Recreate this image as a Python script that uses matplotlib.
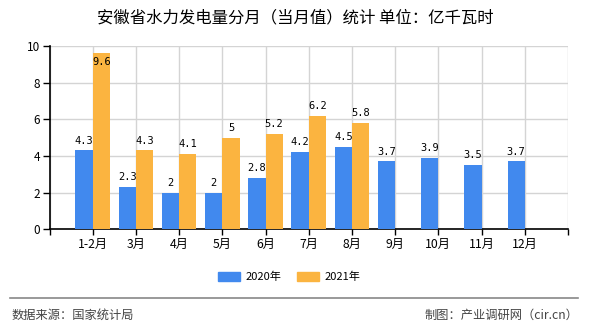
import matplotlib
matplotlib.use('Agg')
import matplotlib.pyplot as plt
import numpy as np
from matplotlib.patches import Patch

plt.rcParams['font.family'] = ['Noto Sans CJK SC', 'DejaVu Sans']

months = ['1-2月', '3月', '4月', '5月', '6月', '7月', '8月', '9月', '10月', '11月', '12月']
v2020 = [4.3, 2.3, 2, 2, 2.8, 4.2, 4.5, 3.7, 3.9, 3.5, 3.7]
v2021 = [9.6, 4.3, 4.1, 5, 5.2, 6.2, 5.8]
series_names = ['2020年', '2021年']
blue = '#4189EE'
orange = '#FBB440'

fig = plt.figure(figsize=(5.9, 3.3), dpi=100)
ax = fig.add_axes([0.0839, 0.3052, 0.8788, 0.5554])

x20 = np.arange(1, len(v2020) + 1)
x21 = np.arange(1, len(v2021) + 1)
w = 0.4
b1 = ax.bar(x20 - w / 2, v2020, w, color=blue, zorder=3)
b2 = ax.bar(x21 + w / 2, v2021, w, color=orange, zorder=3)

# value labels, inside the bar when it reaches the top
for bars, vals in ((b1, v2020), (b2, v2021)):
    for rect, v in zip(bars, vals):
        cx = rect.get_x() + rect.get_width() / 2
        if v > 9:
            ax.annotate(f'{v:g}', (cx, v), xytext=(0, -3), textcoords='offset points',
                        ha='center', va='top', fontsize=7.5, family='DejaVu Sans Mono',
                        zorder=4)
        else:
            ax.annotate(f'{v:g}', (cx, v), xytext=(0, 3.5), textcoords='offset points',
                        ha='center', va='bottom', fontsize=7.5, family='DejaVu Sans Mono',
                        zorder=4)

ax.set_xlim(0, 12)
ax.set_ylim(0, 10)
ax.set_xticks(np.arange(0, 13))
ax.set_xticklabels([''] + months + [''])
ax.set_yticks(np.arange(0, 11, 2))
ax.tick_params(axis='x', length=4, width=1, pad=2.5, labelsize=8.8)
ax.tick_params(axis='y', length=5, width=1, pad=2, labelsize=8.5)
ax.grid(True, color='#d4d4d4', lw=1, zorder=0)
ax.set_axisbelow(True)
for s in ('top', 'right'):
    ax.spines[s].set_visible(False)
for s in ('left', 'bottom'):
    ax.spines[s].set_color('black')
    ax.spines[s].set_linewidth(1.2)

fig.text(0.5, 0.947, '安徽省水力发电量分月（当月值）统计 单位：亿千瓦时',
         ha='center', va='center', fontsize=11.8)

handles = [Patch(color=blue), Patch(color=orange)]
fig.legend(handles, series_names, loc='center', bbox_to_anchor=(0.49, 0.16),
           ncol=2, frameon=False, fontsize=8, handlelength=2.0, handleheight=0.8,
           handletextpad=0.45, columnspacing=1.45)

fig.add_artist(plt.Line2D([0.017, 0.98], [0.098, 0.098], color='#888888', lw=1.2))
fig.text(0.02, 0.045, '数据来源：国家统计局', ha='left', va='center', fontsize=8.8, color='#444444')
fig.text(0.98, 0.045, '制图：产业调研网（cir.cn）', ha='right', va='center', fontsize=8.8,
         color='#444444')

fig.savefig('out.png', dpi=100)
